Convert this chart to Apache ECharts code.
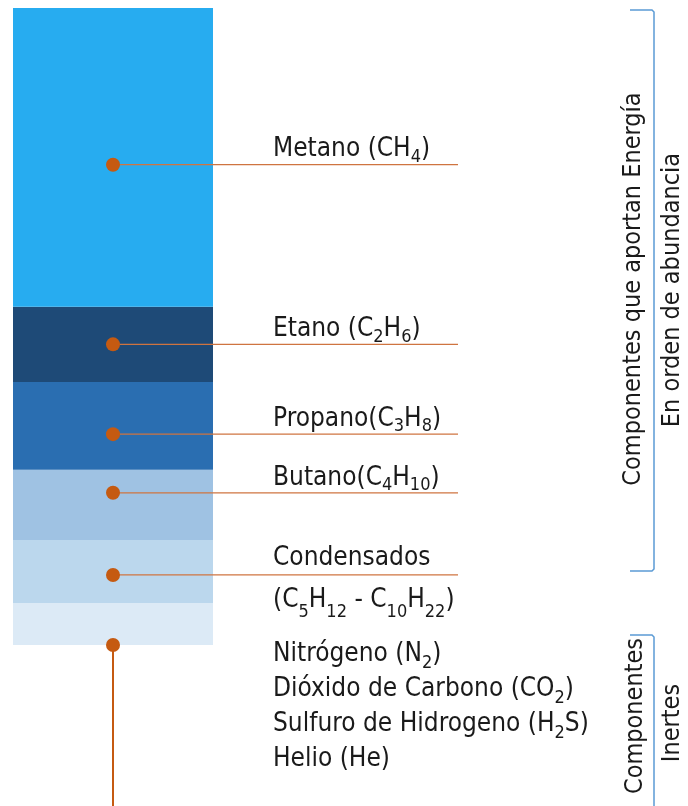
<!DOCTYPE html>
<html><head><meta charset="utf-8">
<script src="https://cdn.jsdelivr.net/npm/echarts@6/dist/echarts.min.js"></script>
<style>html,body{margin:0;padding:0;background:#fff}#c{width:688px;height:806px}</style>
</head><body><div id="c"></div>
<script>
// Stack segments, bottom to top (share of the column height, %)
const segments = ['Inertes', 'Condensados', 'Butano', 'Propano', 'Etano', 'Metano'];
const shares   = [6.6, 9.9, 11.0, 13.8, 11.8, 46.9];
const segColors = ['#DCEAF6', '#BBD7ED', '#9FC2E3', '#2A6EB1', '#1E4A77', '#27ACF0'];
// Leader dot levels (same % scale)
const leaderNames  = ['Metano', 'Etano', 'Propano', 'Butano', 'Condensados'];
const leaderLevels = [75.4, 47.2, 33.1, 23.9, 11.0];
const leaderTexts = [
  '{t|Metano (CH}{s|4}{t|)}',
  '{t|Etano (C}{s|2}{t|H}{s|6}{t|)}',
  '{t|Propano(C}{s|3}{t|H}{s|8}{t|)}',
  '{t|Butano(C}{s|4}{t|H}{s|10}{t|)}',
  '{t2|Condensados}\n{t2|(C}{s2|5}{t2|H}{s2|12}{t2| - C}{s2|10}{t2|H}{s2|22}{t2|)}'
];
const inertLevel = 0;
const inertText = '{t3|Nitrógeno (N}{s3|2}{t3|)}\n{t3|Dióxido de Carbono (CO}{s3|2}{t3|)}\n{t3|Sulfuro de Hidrogeno (H}{s3|2}{t3|S)}\n{t3|Helio (He)}';
const yMin = -25.27, yMax = 100;

const FONT = '"Liberation Sans Narrow", "DejaVu Sans Condensed", "Liberation Sans", sans-serif';
const TXT = '#1a1a1a';
const rich = {
  t: {fontFamily: FONT, fontSize: 26, color: TXT, lineHeight: 33},
  s: {fontFamily: FONT, fontSize: 18, color: TXT, lineHeight: 15, verticalAlign: 'bottom'},
  t2: {fontFamily: FONT, fontSize: 26, color: TXT, lineHeight: 42},
  s2: {fontFamily: FONT, fontSize: 18, color: TXT, lineHeight: 20, verticalAlign: 'bottom'},
  t3: {fontFamily: FONT, fontSize: 26, color: TXT, lineHeight: 35},
  s3: {fontFamily: FONT, fontSize: 18, color: TXT, lineHeight: 15, verticalAlign: 'bottom'}
};
const ORANGE = '#C55A11';

const series = [];
segments.forEach((name, i) => {
  series.push({
    name, type: 'bar', stack: 'gas', xAxisIndex: 0, yAxisIndex: 0,
    barWidth: '100%', data: [shares[i]], itemStyle: {color: segColors[i]},
    silent: true
  });
});
leaderNames.forEach((name, i) => {
  series.push({
    name: name + ' leader', type: 'line', xAxisIndex: 1, yAxisIndex: 1,
    lineStyle: {color: '#CF7440', width: 1.2}, silent: true,
    data: [
      {value: [0, leaderLevels[i]], symbol: 'circle', symbolSize: 14,
       itemStyle: {color: ORANGE},
       label: {show: true, position: 'right', distance: 153,
               offset: [0, i === 4 ? 4 : -15], formatter: leaderTexts[i], rich, align: 'left'}},
      {value: [1, leaderLevels[i]], symbol: 'none'}
    ]
  });
});
series.push({
  name: 'Inertes leader', type: 'line', xAxisIndex: 1, yAxisIndex: 1,
  lineStyle: {color: ORANGE, width: 2}, silent: true,
  data: [
    {value: [0, inertLevel], symbol: 'circle', symbolSize: 14, itemStyle: {color: ORANGE},
     label: {show: true, position: 'right', distance: 153, offset: [0, 62], formatter: inertText, rich, align: 'left'}},
    {value: [0, yMin], symbol: 'none'}
  ]
});

const BR = '#5B9BD5';
const rotFont = {fontFamily: FONT, fontSize: 25, fill: TXT, align: 'center', verticalAlign: 'middle'};
const graphic = [
  {type: 'polyline', shape: {points: [[630, 10], [652, 10], [654, 12], [654, 569], [652, 571], [630, 571]]},
   style: {stroke: BR, lineWidth: 1.5, fill: null}},
  {type: 'polyline', shape: {points: [[630, 635], [652, 635], [654, 637], [654, 810]]},
   style: {stroke: BR, lineWidth: 1.5, fill: null}},
  {type: 'text', x: 633, y: 289, rotation: Math.PI / 2, style: Object.assign({text: 'Componentes que aportan Energía'}, rotFont)},
  {type: 'text', x: 672, y: 290, rotation: Math.PI / 2, style: Object.assign({text: 'En orden de abundancia'}, rotFont)},
  {type: 'text', x: 635, y: 716, rotation: Math.PI / 2, style: Object.assign({text: 'Componentes'}, rotFont)},
  {type: 'text', x: 672, y: 723, rotation: Math.PI / 2, style: Object.assign({text: 'Inertes'}, rotFont)}
];

const hiddenVal = {show: false};
const chart = echarts.init(document.getElementById('c'), null, {renderer: 'canvas'});
chart.setOption({
  animation: false,
  backgroundColor: '#fff',
  grid: [
    {left: 13, width: 200, top: 8, bottom: 0},
    {left: 113, width: 345, top: 8, bottom: 0}
  ],
  xAxis: [
    {type: 'category', gridIndex: 0, data: ['Gas'], show: false},
    {type: 'value', gridIndex: 1, min: 0, max: 1, show: false}
  ],
  yAxis: [
    {type: 'value', gridIndex: 0, min: yMin, max: yMax, show: false, splitLine: hiddenVal},
    {type: 'value', gridIndex: 1, min: yMin, max: yMax, show: false, splitLine: hiddenVal}
  ],
  series,
  graphic
});
</script></body></html>
